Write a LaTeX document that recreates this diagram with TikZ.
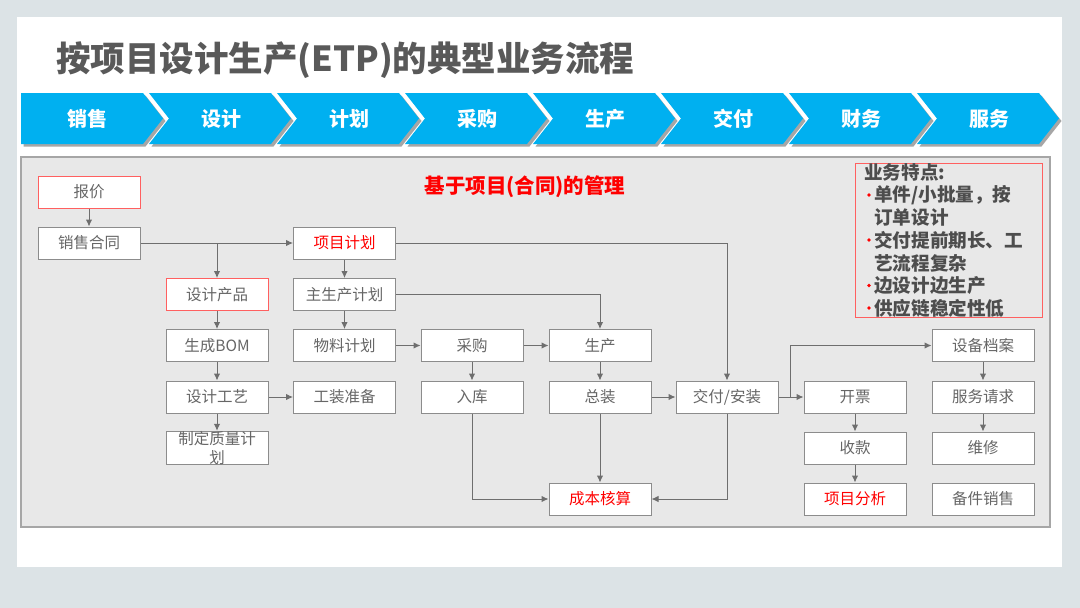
\documentclass[tikz,border=0pt]{standalone}
\usepackage{fontspec}
\setmainfont{Noto Sans CJK SC}
\usetikzlibrary{arrows.meta}
\definecolor{outerbg}{HTML}{DCE3E6}
\definecolor{panelbg}{HTML}{E8E8E8}
\definecolor{panelbd}{HTML}{A6A6A6}
\definecolor{boxbd}{HTML}{8C8C8C}
\definecolor{boxtx}{HTML}{666666}
\definecolor{redbd}{HTML}{FF6060}
\definecolor{redtx}{HTML}{FF0000}
\definecolor{cyanfill}{HTML}{00B0F0}
\definecolor{titletx}{HTML}{595959}
\definecolor{feattx}{HTML}{4D4D4D}
\definecolor{linec}{HTML}{6E6E6E}
\tikzset{
  x=1pt, y=-1pt,
  box/.style={draw=boxbd, fill=white, line width=1pt, minimum width=102pt, minimum height=32pt, inner sep=0pt, text=boxtx, font=\fontsize{15.5}{17}\selectfont},
  redbox/.style={box, draw=redbd},
  redtext/.style={box, text=redtx},
  arr/.style={draw=linec, line width=1pt, -{Latex[length=7pt,width=6.5pt]}},
  chevtext/.style={text=white, font=\fontsize{20}{22}\selectfont\bfseries},
  featline/.style={anchor=west, inner sep=0pt, text=feattx, font=\fontsize{18.6}{22}\selectfont\bfseries},
  bullet/.style={circle, fill=redtx, inner sep=0pt, minimum size=3.6pt},
}
\begin{document}
\begin{tikzpicture}
\useasboundingbox (0,0) rectangle (1080,608);
\fill[outerbg] (0,0) rectangle (1080,608);
\fill[white] (17,17) rectangle (1062,567);
% title
\node[anchor=west, inner sep=0pt, text=titletx, font=\fontsize{34.5}{40}\selectfont\bfseries] (title) at (56,60) {按项目设计生产(ETP)的典型业务流程};
% chevrons
\foreach \i/\t in {0/销售,1/设计,2/计划,3/采购,4/生产,5/交付,6/财务,7/服务} {
  \pgfmathsetmacro{\xo}{21+128*\i}
  \ifnum\i=0
    \fill[gray!70] ({\xo+2.5},95.5) -- ({\xo+122+2.5},95.5) -- ({\xo+142+2.5},121) -- ({\xo+122+2.5},146.5) -- ({\xo+2.5},146.5) -- cycle;
    \fill[cyanfill] (\xo,93) -- ({\xo+122},93) -- ({\xo+142},118.5) -- ({\xo+122},144) -- (\xo,144) -- cycle;
    \node[chevtext] (ch\i) at ({\xo+66},118.5) {\t};
  \else
    \fill[gray!70] ({\xo+2.5},95.5) -- ({\xo+122+2.5},95.5) -- ({\xo+142+2.5},121) -- ({\xo+122+2.5},146.5) -- ({\xo+2.5},146.5) -- ({\xo+20+2.5},121) -- cycle;
    \fill[cyanfill] (\xo,93) -- ({\xo+122},93) -- ({\xo+142},118.5) -- ({\xo+122},144) -- (\xo,144) -- ({\xo+20},118.5) -- cycle;
    \node[chevtext] (ch\i) at ({\xo+72},118.5) {\t};
  \fi
}
% panel
\draw[fill=panelbg, draw=panelbd, line width=1.2pt] (21,157) rectangle (1050,527);
% heading
\node[text=redtx, font=\fontsize{20.5}{22}\selectfont\bfseries] (head) at (525,187) {基于项目(合同)的管理};
% features
\draw[redbd, line width=1pt] (855,163) rectangle (1042,317);
\node[featline] (f0) at (864,172) {业务特点:};
\node[bullet] (b1) at (869,195) {};
\node[featline] (f1) at (874,195) {单件/小批量，按};
\node[featline] (f2) at (874,217.5) {订单设计};
\node[bullet] (b3) at (869,240) {};
\node[featline] (f3) at (874,240) {交付提前期长、工};
\node[featline] (f4) at (874,263) {艺流程复杂};
\node[bullet] (b5) at (869,285.5) {};
\node[featline] (f5) at (874,285.5) {边设计边生产};
\node[bullet] (b6) at (869,308) {};
\node[featline] (f6) at (874,308) {供应链稳定性低};
% boxes
\node[redbox] (bj) at (89,192) {报价};
\node[box] (xsht) at (89,243) {销售合同};
\node[redbox] (sjcp) at (217,294.5) {设计产品};
\node[box] (scbom) at (217,345.5) {生成BOM};
\node[box] (sjgy) at (217,397) {设计工艺};
\node[box, align=center, font=\fontsize{15.5}{19}\selectfont] (zlj) at (217,448) {制定质量计\\划};
\node[redtext] (xmjh) at (344.5,243) {项目计划};
\node[box] (zscjh) at (344.5,294.5) {主生产计划};
\node[box] (wljh) at (344.5,345.5) {物料计划};
\node[box] (gzzb) at (344.5,397) {工装准备};
\node[box] (cg) at (472,345.5) {采购};
\node[box] (rk) at (472,397) {入库};
\node[box] (sc) at (600,345.5) {生产};
\node[box] (zz) at (600,397) {总装};
\node[redtext] (cbhs) at (600,499) {成本核算};
\node[box] (jf) at (727,397) {交付/安装};
\node[box] (kp) at (855,397) {开票};
\node[box] (sk) at (855,448) {收款};
\node[redtext] (xmfx) at (855,499) {项目分析};
\node[box] (sbda) at (983,345.5) {设备档案};
\node[box] (fwqq) at (983,397) {服务请求};
\node[box] (wx) at (983,448) {维修};
\node[box] (bjxs) at (983,499) {备件销售};
% connectors
\draw[arr] (bj) -- (xsht);
\draw[arr] (xsht) -- (xmjh);
\draw[arr] (sjcp.north |- xsht.east) -- (sjcp);
\draw[arr] (sjcp) -- (scbom);
\draw[arr] (scbom) -- (sjgy);
\draw[arr] (sjgy) -- (zlj);
\draw[arr] (sjgy) -- (gzzb);
\draw[arr] (xmjh) -- (zscjh);
\draw[arr] (zscjh) -- (wljh);
\draw[arr] (wljh) -- (cg);
\draw[arr] (cg) -- (sc);
\draw[arr] (cg) -- (rk);
\draw[arr] (sc) -- (zz);
\draw[arr] (zz) -- (jf);
\draw[arr] (zz) -- (cbhs);
\draw[arr] (xmjh) -| (jf);
\draw[arr] (zscjh) -| (sc);
\draw[arr] (rk) |- (cbhs);
\draw[arr] (jf) |- (cbhs);
\draw[arr] (jf) -- (kp);
\coordinate (br) at (790,397);
\draw[arr] (br) |- (sbda);
\draw[arr] (kp) -- (sk);
\draw[arr] (sk) -- (xmfx);
\draw[arr] (sbda) -- (fwqq);
\draw[arr] (fwqq) -- (wx);
\end{tikzpicture}
\end{document}
